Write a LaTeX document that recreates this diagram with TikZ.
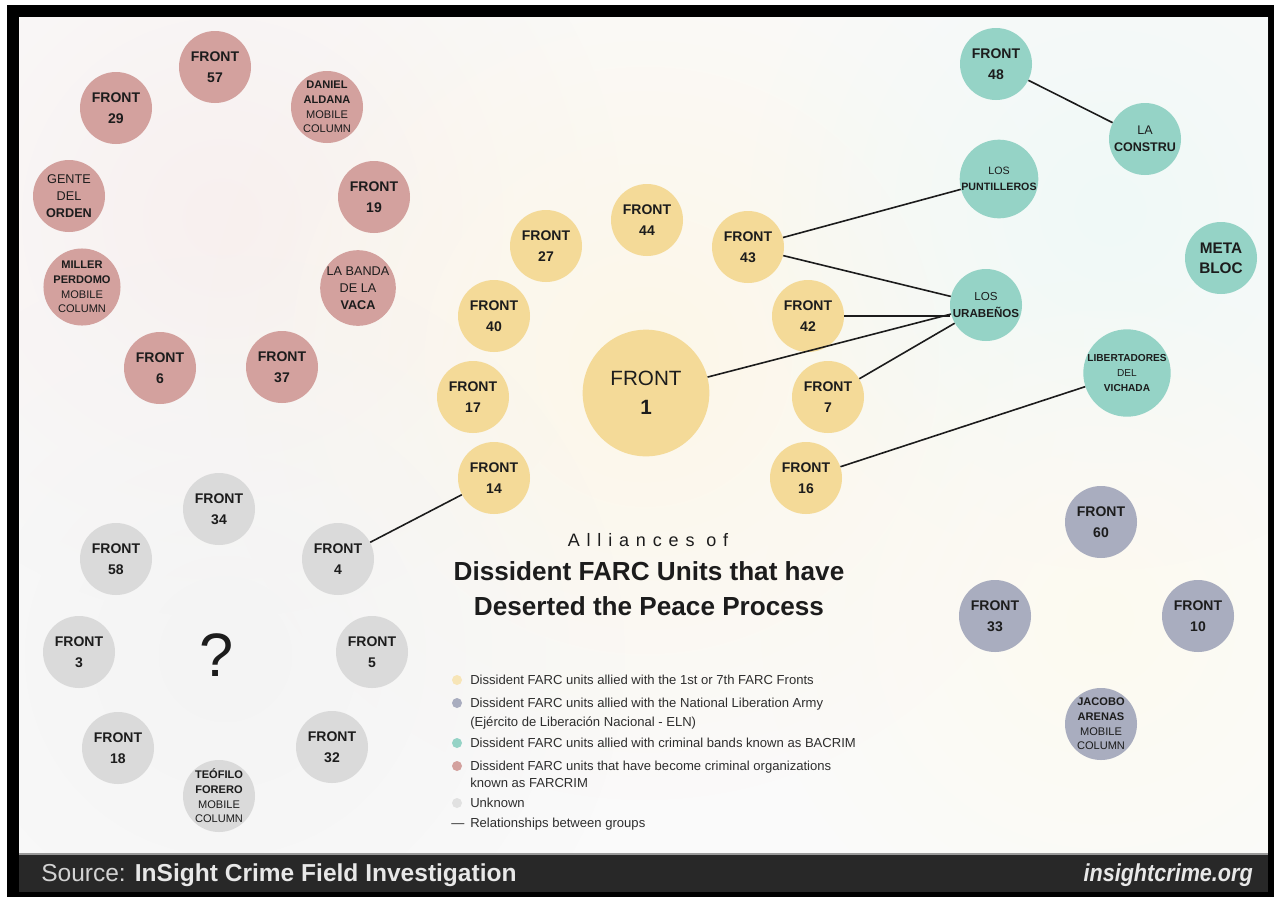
\documentclass[tikz,border=0pt]{standalone}
\usepackage{fontspec}
\setmainfont{Liberation Sans}
\newfontfamily\footcond[FakeStretch=0.88]{Liberation Sans}
\newfontfamily\spacedfont[LetterSpace=38]{Liberation Sans}
\usetikzlibrary{fadings}
\tikzfading[name=blobfade, inner color=transparent!0, outer color=transparent!100]
\definecolor{cred}{HTML}{D3A19E}
\definecolor{cyel}{HTML}{F4DA98}
\definecolor{cteal}{HTML}{95D3C6}
\definecolor{cgray}{HTML}{DADADA}
\definecolor{celn}{HTML}{A9ADBF}
\definecolor{ink}{HTML}{1C1C1C}
\definecolor{legink}{HTML}{2E2E2E}
\definecolor{bgc}{HTML}{FAFAFA}
\definecolor{footbg}{HTML}{282828}
\definecolor{footline}{HTML}{9A9A9A}
\definecolor{foottxt}{HTML}{D2D2D2}
\definecolor{foottxtb}{HTML}{E8E8E8}
\begin{document}
\begin{tikzpicture}[x=0.75pt,y=-0.75pt,
  unit/.style={circle, minimum size=54pt, inner sep=0pt, align=center, text=ink,
    font=\fontsize{10.5}{15.5}\selectfont\bfseries},
  colfont/.style={font=\fontsize{8.3}{11}\selectfont\bfseries},
  redu/.style={unit, fill=cred},
  yelu/.style={unit, fill=cyel},
  tealu/.style={unit, fill=cteal},
  grayu/.style={unit, fill=cgray},
  elnu/.style={unit, fill=celn},
  rel/.style={draw=ink, line width=1.2pt},
  legtext/.style={anchor=base west, text=legink, inner sep=0pt,
    font=\fontsize{9.8}{12}\selectfont},
  legdot/.style={circle, inner sep=0pt, minimum size=7.5pt},
]
\useasboundingbox (0,0) rectangle (1274,897);
% frame
\fill[white] (0,0) rectangle (1274,897);
\fill[black] (7,5) rectangle (1274,897);
\fill[bgc] (19,17) rectangle (1268,853);

% soft background blobs
\begin{scope}
\clip (19,17) rectangle (1268,853);
\fill[cred!16, path fading=blobfade] (222,218) circle (400);
\fill[cyel!22, path fading=blobfade] (645,360) circle (440);
\fill[cteal!14, path fading=blobfade] (1110,210) circle (360);
\fill[cgray!30, path fading=blobfade] (225,655) circle (400);
\fill[cyel!14, path fading=blobfade] (1100,620) circle (340);
\end{scope}
\fill[footline] (19,853) rectangle (1268,855);
\fill[footbg] (19,855) rectangle (1268,892);

% FARCRIM (red)
\node[redu] (r57) at (215,67) {FRONT\\57};
\node[redu] (r29) at (116,108) {FRONT\\29};
\node[redu, colfont] (rda) at (327,107) {DANIEL\\ALDANA\\\mdseries MOBILE\\\mdseries COLUMN};
\node[redu, font=\fontsize{9.5}{12.75}\selectfont\bfseries] (rgd) at (69,196) {\mdseries GENTE\\\mdseries DEL\\ORDEN};
\node[redu] (r19) at (374,197) {FRONT\\19};
\node[redu, colfont] (rmp) at (82,287) {MILLER\\PERDOMO\\\mdseries MOBILE\\\mdseries COLUMN};
\node[redu, font=\fontsize{9.5}{12.75}\selectfont\bfseries] (rbv) at (358,288) {\mdseries LA BANDA\\\mdseries DE LA\\VACA};
\node[redu] (r6) at (160,368) {FRONT\\6};
\node[redu] (r37) at (282,367) {FRONT\\37};

% 1st / 7th fronts (yellow)
\node[yelu] (y44) at (647,220) {FRONT\\44};
\node[yelu] (y27) at (546,246) {FRONT\\27};
\node[yelu] (y43) at (748,247) {FRONT\\43};
\node[yelu] (y40) at (494,316) {FRONT\\40};
\node[yelu] (y42) at (808,316) {FRONT\\42};
\node[yelu, minimum size=95pt, font=\fontsize{15.5}{22}\selectfont] (y1) at (646,393) {FRONT\\\bfseries 1};
\node[yelu] (y17) at (473,397) {FRONT\\17};
\node[yelu] (y7) at (828,397) {FRONT\\7};
\node[yelu] (y14) at (494,478) {FRONT\\14};
\node[yelu] (y16) at (806,478) {FRONT\\16};

% BACRIM (teal)
\node[tealu] (t48) at (996,64) {FRONT\\48};
\node[tealu, font=\fontsize{9.4}{12.75}\selectfont\bfseries] (tlc) at (1145,139) {\mdseries LA\\CONSTRU};
\node[tealu, font=\fontsize{8}{12}\selectfont\bfseries] (tlp) at (999,179) {\mdseries LOS\\PUNTILLEROS};
\node[tealu, font=\fontsize{11.5}{15}\selectfont\bfseries] (tmb) at (1221,258) {META\\BLOC};
\node[tealu, font=\fontsize{8.7}{12.75}\selectfont\bfseries] (tlu) at (986,305) {\mdseries LOS\\URABEÑOS};
\node[tealu, font=\fontsize{7.6}{11.25}\selectfont\bfseries] (tlv) at (1127,373) {LIBERTADORES\\\mdseries DEL\\VICHADA};

% Unknown (gray)
\node[grayu] (g34) at (219,509) {FRONT\\34};
\node[grayu] (g58) at (116,559) {FRONT\\58};
\node[grayu] (g4) at (338,559) {FRONT\\4};
\node[grayu] (g3) at (79,652) {FRONT\\3};
\node[grayu] (g5) at (372,652) {FRONT\\5};
\node[grayu] (g18) at (118,748) {FRONT\\18};
\node[grayu] (g32) at (332,747) {FRONT\\32};
\node[grayu, colfont] (gtf) at (219,796) {TEÓFILO\\FORERO\\\mdseries MOBILE\\\mdseries COLUMN};
\node[text=ink, font=\fontsize{46}{50}\selectfont, inner sep=0pt] (qm) at (217,655) {?};

% ELN (blue-gray)
\node[elnu] (e60) at (1101,522) {FRONT\\60};
\node[elnu] (e33) at (995,616) {FRONT\\33};
\node[elnu] (e10) at (1198,616) {FRONT\\10};
\node[elnu, colfont] (eja) at (1101,724) {JACOBO\\ARENAS\\\mdseries MOBILE\\\mdseries COLUMN};

% relationships
\draw[rel] (t48) -- (tlc);
\draw[rel] (y43) -- (tlp);
\draw[rel] (y43) -- (tlu);
\draw[rel] (y42.east) -- (y42.east -| tlu.west);
\draw[rel] (y1) -- (tlu);
\draw[rel] (y7) -- (tlu);
\draw[rel] (y16) -- (tlv);
\draw[rel] (y14) -- (g4);

% title
\node[text=ink, font=\spacedfont\fontsize{13.5}{16}\selectfont, inner sep=0pt] (t0) at (648,540) {Alliances of};
\node[text=ink, font=\fontsize{19.6}{24}\selectfont\bfseries, inner sep=0pt] (t1) at (649,571) {Dissident FARC Units that have};
\node[text=ink, font=\fontsize{19.6}{24}\selectfont\bfseries, inner sep=0pt] (t2) at (649,606) {Deserted the Peace Process};

% legend
\node[legdot, fill=cyel!70] (d1) at (457,680) {};
\node[legtext] (l1) at (470,684) {Dissident FARC units allied with the 1st or 7th FARC Fronts};
\node[legdot, fill=celn] (d2) at (457,703) {};
\node[legtext] (l2) at (470,707) {Dissident FARC units allied with the National Liberation Army};
\node[legtext] (l2b) at (470,726) {(Ejército de Liberación Nacional - ELN)};
\node[legdot, fill=cteal] (d3) at (457,743) {};
\node[legtext] (l3) at (470,747) {Dissident FARC units allied with criminal bands known as BACRIM};
\node[legdot, fill=cred] (d4) at (457,766) {};
\node[legtext] (l4) at (470,770) {Dissident FARC units that have become criminal organizations};
\node[legtext] (l4b) at (470,787) {known as FARCRIM};
\node[legdot, fill=cgray!80] (d5) at (457,803) {};
\node[legtext] (l5) at (470,807) {Unknown};
\node[legtext] (d6) at (451,827) {—};
\node[legtext] (l6) at (470,827) {Relationships between groups};

% footer
\node[anchor=base west, inner sep=0pt, text=foottxt, font=\fontsize{18.4}{22}\selectfont] (src) at (41,881)
  {Source: \textcolor{foottxtb}{\bfseries InSight Crime Field Investigation}};
\node[anchor=base east, inner sep=0pt, text=foottxtb, font=\footcond\fontsize{18.4}{22}\selectfont\bfseries\itshape] (site) at (1253,881) {insightcrime.org};
\end{tikzpicture}
\end{document}
